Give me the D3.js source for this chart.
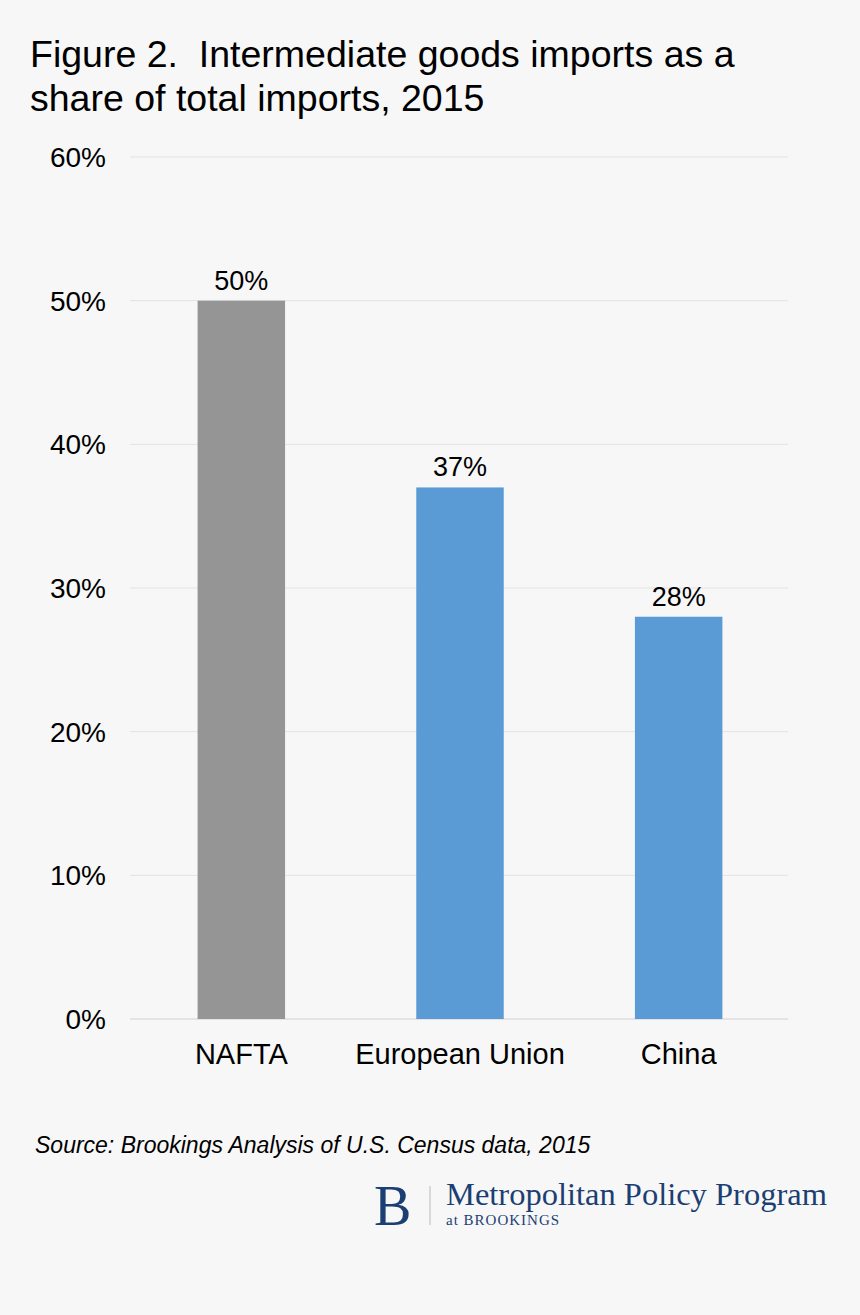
<!DOCTYPE html>
<html lang="en">
<head>
<meta charset="UTF-8">
<script src="https://d3js.org/d3.v7.min.js"></script>
<style>
  body { margin: 0; background: #f7f7f7; }
  svg { display: block; font-family: "Liberation Sans", Arial, sans-serif; }
</style>
</head>
<body>
<script>
  const regions = ["NAFTA", "European Union", "China"];
  const shares = [50, 37, 28];
  const barColors = ["#959595", "#5b9bd5", "#5b9bd5"];
  const yTicks = [0, 10, 20, 30, 40, 50, 60];

  const w = 860, h = 1315;
  const svg = d3.select("body").append("svg").attr("width", w).attr("height", h);
  svg.append("rect").attr("width", w).attr("height", h).attr("fill", "#f7f7f7");

  // title
  svg.append("text").attr("x", 30).attr("y", 67).attr("font-size", 37.5).attr("fill", "#000")
    .style("white-space", "pre").text("Figure 2.  Intermediate goods imports as a");
  svg.append("text").attr("x", 30).attr("y", 111).attr("font-size", 37.5).attr("fill", "#000")
    .text("share of total imports, 2015");

  const x = d3.scaleBand().domain(regions).range([132, 788]).paddingInner(0.6).paddingOuter(0.3);
  const y = d3.scaleLinear().domain([0, 60]).range([1019, 157]);

  // gridlines
  svg.append("g").selectAll("line").data(yTicks).join("line")
    .attr("x1", 130).attr("x2", 788)
    .attr("y1", d => y(d)).attr("y2", d => y(d))
    .attr("stroke", d => d === 0 ? "#d0d0d0" : "#e3e3e3").attr("stroke-width", 1);

  // y axis labels
  svg.append("g").selectAll("text").data(yTicks).join("text")
    .attr("x", 106).attr("y", d => y(d) + 10).attr("text-anchor", "end")
    .attr("font-size", 28).attr("fill", "#000").text(d => d + "%");

  // bars
  svg.append("g").selectAll("rect").data(regions).join("rect")
    .attr("x", d => x(d)).attr("width", x.bandwidth())
    .attr("y", (d, i) => y(shares[i])).attr("height", (d, i) => y(0) - y(shares[i]))
    .attr("fill", (d, i) => barColors[i]);

  // value labels
  svg.append("g").selectAll("text").data(regions).join("text")
    .attr("x", d => x(d) + x.bandwidth() / 2).attr("y", (d, i) => y(shares[i]) - 11)
    .attr("text-anchor", "middle").attr("font-size", 27).attr("fill", "#000")
    .text((d, i) => shares[i] + "%");

  // category labels
  svg.append("g").selectAll("text").data(regions).join("text")
    .attr("x", d => x(d) + x.bandwidth() / 2).attr("y", 1064)
    .attr("text-anchor", "middle").attr("font-size", 29).attr("fill", "#000").text(d => d);

  // source
  svg.append("text").attr("x", 35).attr("y", 1153).attr("font-size", 23)
    .attr("font-style", "italic").attr("fill", "#000")
    .text("Source: Brookings Analysis of U.S. Census data, 2015");

  // logo
  const logo = svg.append("g").attr("font-family", "'Liberation Serif', 'DejaVu Serif', serif").attr("fill", "#1c3f73");
  logo.append("text").attr("x", 374).attr("y", 1225).attr("font-size", 56).text("B");
  logo.append("line").attr("x1", 430).attr("x2", 430).attr("y1", 1186).attr("y2", 1225)
    .attr("stroke", "#bbb").attr("stroke-width", 1);
  logo.append("text").attr("x", 446).attr("y", 1205).attr("font-size", 32.5).text("Metropolitan Policy Program");
  logo.append("text").attr("x", 446).attr("y", 1225).attr("font-size", 15).attr("letter-spacing", 1)
    .text("at BROOKINGS");
</script>
</body>
</html>
